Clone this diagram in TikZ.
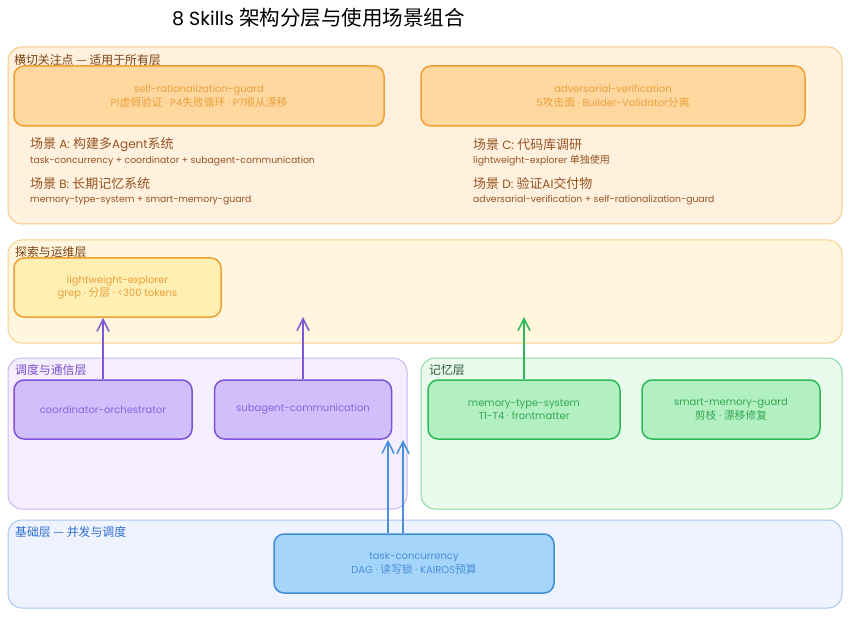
\documentclass[tikz,border=0pt]{standalone}
\usepackage{fontspec}
\setmainfont{Poppins}
\newfontfamily\cjk[Scale=1.08]{Noto Sans CJK SC}
\newcommand\zh[1]{{\cjk #1}}
\usetikzlibrary{arrows.meta}
\definecolor{oFill}{HTML}{FFF1DE}\definecolor{oLine}{HTML}{F7C98A}
\definecolor{obFill}{HTML}{FFD8A0}\definecolor{obLine}{HTML}{F0A030}\definecolor{obText}{HTML}{E9A03A}
\definecolor{brown}{HTML}{955322}\definecolor{dbrown}{HTML}{7A4012}
\definecolor{yFill}{HTML}{FFF6DD}\definecolor{yLine}{HTML}{F8D38E}
\definecolor{ybFill}{HTML}{FFEFB3}
\definecolor{pFill}{HTML}{F4EEFF}\definecolor{pLine}{HTML}{C9B6F2}\definecolor{pLabel}{HTML}{7A4CC8}
\definecolor{pbFill}{HTML}{D0BFFB}\definecolor{pbLine}{HTML}{7E55D6}\definecolor{pbText}{HTML}{8B63E0}
\definecolor{gFill}{HTML}{E9F9EC}\definecolor{gLine}{HTML}{8EDBA2}\definecolor{gLabel}{HTML}{2A5A36}
\definecolor{gbFill}{HTML}{B2F0C2}\definecolor{gbLine}{HTML}{2EB856}\definecolor{gbText}{HTML}{34A853}
\definecolor{bFill}{HTML}{EEF3FF}\definecolor{bLine}{HTML}{A8C6F0}\definecolor{bLabel}{HTML}{2F6ED0}
\definecolor{bbFill}{HTML}{A5D5FB}\definecolor{bbLine}{HTML}{3F8CD8}\definecolor{bbText}{HTML}{4A8FD8}
\tikzset{
  layer/.style={draw=#1Line, fill=#1Fill, line width=1pt, rounded corners=14pt, inner sep=0pt},
  lbl/.style={anchor=west, font=\fontsize{11}{13}\selectfont, inner sep=0pt},
  skill/.style={draw=#1bLine, fill=#1bFill, line width=1.5pt, rounded corners=10pt, inner sep=0pt,
     text=#1bText, align=center, font=\fontsize{10}{13.5}\selectfont},
  scn/.style={anchor=west, inner sep=0pt, text=brown, font=\fontsize{12}{14}\selectfont},
  scs/.style={anchor=west, inner sep=0pt, text=brown, font=\fontsize{9.3}{11}\selectfont},
  arr/.style={line width=1.5pt, draw=#1, -{Straight Barb[length=12pt,width=12pt,line width=1.5pt]}},
}
\begin{document}
\begin{tikzpicture}[x=1pt,y=-1pt]
\useasboundingbox[fill=white] (0,0) rectangle (850,617);
\node[font=\fontsize{19}{22}\selectfont] (title) at (318.5,18) {8 Skills \zh{架构分层与使用场景组合}};
% layers
\node[layer=o, minimum width=834pt, minimum height=177pt] (Lcross) at (425,135.5) {};
\node[layer=y, minimum width=834pt, minimum height=103pt] (Lexp) at (425,291.5) {};
\node[layer=p, minimum width=399pt, minimum height=151pt] (Lsch) at (207.5,433.5) {};
\node[layer=g, minimum width=421pt, minimum height=151pt] (Lmem) at (631.5,433.5) {};
\node[layer=b, minimum width=834pt, minimum height=88pt] (Lbase) at (425,564) {};
% layer labels
\node[lbl, text=dbrown] (tcross) at (14,60) {\zh{横切关注点 — 适用于所有层}};
\node[lbl, text=dbrown] (texp) at (15,252) {\zh{探索与运维层}};
\node[lbl, text=pLabel] (tsch) at (15,370) {\zh{调度与通信层}};
\node[lbl, text=gLabel] (tmem) at (429,370) {\zh{记忆层}};
\node[lbl, text=bLabel] (tbase) at (15,532) {\zh{基础层 — 并发与调度}};
% skills
\node[skill=o, minimum width=370pt, minimum height=60pt] (srg) at (199,96) {self-rationalization-guard\\P1\zh{虚假验证} · P4\zh{失败循环} · P7\zh{顺从漂移}};
\node[skill=o, minimum width=384pt, minimum height=60pt] (adv) at (613,96) {adversarial-verification\\5\zh{攻击面} · Builder-Validator\zh{分离}};
\node[skill=o, fill=ybFill, minimum width=207pt, minimum height=59pt] (lwe) at (117.5,287.5) {lightweight-explorer\\grep · \zh{分层} · <300 tokens};
\node[skill=p, minimum width=178pt, minimum height=59pt] (coord) at (103,409.5) {coordinator-orchestrator};
\node[skill=p, minimum width=177pt, minimum height=59pt] (sub) at (303,409.5) {subagent-communication};
\node[skill=g, minimum width=192pt, minimum height=59pt] (mts) at (524,409.5) {memory-type-system\\T1-T4 · frontmatter};
\node[skill=g, minimum width=178pt, minimum height=59pt] (smg) at (731,409.5) {smart-memory-guard\\\zh{剪枝} · \zh{漂移修复}};
\node[skill=b, minimum width=280pt, minimum height=59pt] (task) at (414,563.5) {task-concurrency\\DAG · \zh{读写锁} · KAIROS\zh{预算}};
% scenarios
\node[scn] (sA) at (30,145) {\zh{场景} A: \zh{构建多}Agent\zh{系统}};
\node[scs] (sAd) at (30,161) {task-concurrency + coordinator + subagent-communication};
\node[scn] (sB) at (30,184) {\zh{场景} B: \zh{长期记忆系统}};
\node[scs] (sBd) at (30,200) {memory-type-system + smart-memory-guard};
\node[scn] (sC) at (473,145) {\zh{场景} C: \zh{代码库调研}};
\node[scs] (sCd) at (473,161) {lightweight-explorer \zh{单独使用}};
\node[scn] (sD) at (473,184) {\zh{场景} D: \zh{验证}AI\zh{交付物}};
\node[scs] (sDd) at (473,200) {adversarial-verification + self-rationalization-guard};
% arrow end points
\coordinate (e1) at (303,317);
\coordinate (e2) at (524,317);
\coordinate (b1) at (388,0);
\coordinate (b2) at (403,440);
% arrows
\draw[arr=pbLine] (coord.north) -- (coord.north |- lwe.south);
\draw[arr=pbLine] (sub.north) -- (e1);
\draw[arr=gbLine] (mts.north) -- (e2);
\draw[arr=bbText] (task.north -| b1) -- (sub.south -| b1);
\draw[arr=bbText] (task.north -| b2) -- (b2);
\end{tikzpicture}
\end{document}
